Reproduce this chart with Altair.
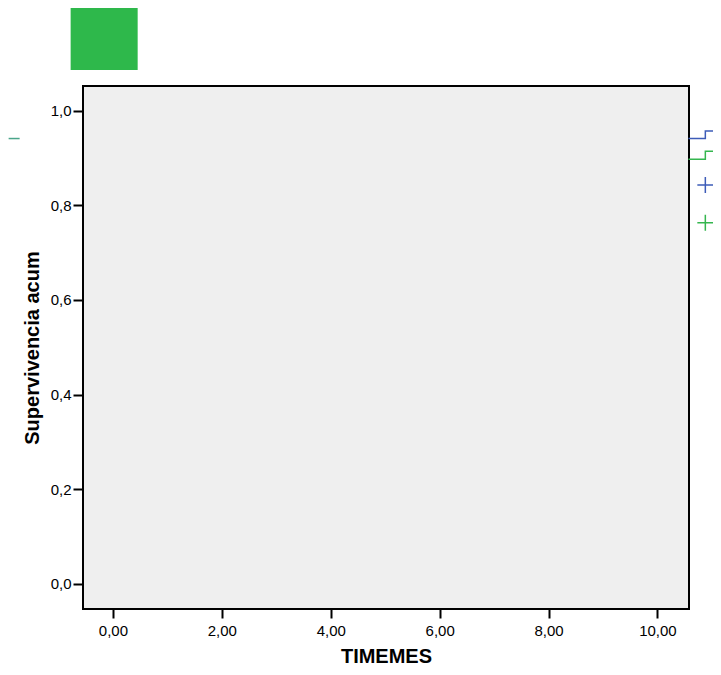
import altair as alt
import pandas as pd

# ---- data ----
x_ticks = [0, 2, 4, 6, 8, 10]
y_ticks = [0.0, 0.2, 0.4, 0.6, 0.8, 1.0]

series_names = ["Grupo 1", "Grupo 2"]
series_colors = ["#3d5cb8", "#35b64f"]

step_x = [10.57, 10.88, 10.88, 11.40]
blue_y = [0.941, 0.941, 0.957, 0.957]
green_y = [0.897, 0.897, 0.914, 0.914]

cross_x = [10.88, 10.88]
cross_y = [0.843, 0.763]

stub_x = [-1.916, -1.714]
stub_y = [0.941, 0.941]

box_x = [-0.777]
box_x2 = [0.454]
box_y = [1.086]
box_y2 = [1.221]

# ---- tables ----
lines_df = pd.DataFrame({
    "x": step_x + step_x,
    "y": blue_y + green_y,
    "s": [series_names[0]] * 4 + [series_names[1]] * 4,
    "o": list(range(4)) + list(range(4)),
})
cross_df = pd.DataFrame({"x": cross_x, "y": cross_y, "s": series_names})
stub_df = pd.DataFrame({"x": stub_x, "y": stub_y, "o": [0, 1]})
box_df = pd.DataFrame({"x": box_x, "x2": box_x2, "y": box_y, "y2": box_y2})

FONT = "Liberation Sans"

x_axis = alt.Axis(
    values=x_ticks, grid=False, domain=False, ticks=True, tickSize=9,
    tickWidth=2, tickColor="black",
    labelExpr="replace(format(datum.value, '.2f'), '.', ',')",
    labelFont=FONT, labelFontSize=15, labelColor="black", labelPadding=5,
    title="TIMEMES", titleFont=FONT, titleFontSize=20, titleFontWeight="bold",
    titleColor="black", titlePadding=8,
)
y_axis = alt.Axis(
    values=y_ticks, grid=False, domain=False, ticks=True, tickSize=10,
    tickWidth=2, tickColor="black",
    labelExpr="replace(format(datum.value, '.1f'), '.', ',')",
    labelFont=FONT, labelFontSize=15, labelColor="black", labelPadding=2,
    title="Supervivencia acum", titleFont=FONT, titleFontSize=20,
    titleFontWeight="bold", titleColor="black", titlePadding=8,
)
x_scale = alt.Scale(domain=[-0.55, 10.58], nice=False, zero=False)
y_scale = alt.Scale(domain=[-0.053, 1.052], nice=False, zero=False)

X = alt.X("x:Q", scale=x_scale, axis=x_axis)
Y = alt.Y("y:Q", scale=y_scale, axis=y_axis)
color = alt.Color("s:N", scale=alt.Scale(domain=series_names, range=series_colors), legend=None)

lines = alt.Chart(lines_df).mark_line(strokeWidth=1.5, clip=False, interpolate="linear").encode(
    x=X, y=Y, color=color, order="o:Q"
)
crosses = alt.Chart(cross_df).mark_point(
    shape="M-1,0L1,0M0,-1L0,1", filled=False, size=256, strokeWidth=1.5, opacity=1, clip=False
).encode(x=X, y=Y, color=color)
stub = alt.Chart(stub_df).mark_line(strokeWidth=1.5, color="#4aa58a", clip=False).encode(
    x=X, y=Y, order="o:Q"
)
box = alt.Chart(box_df).mark_rect(color="#2eb84b", clip=False).encode(
    x=X, x2="x2:Q", y=Y, y2="y2:Q"
)

chart = alt.layer(box, stub, lines, crosses).properties(
    width=606, height=523,
    autosize=alt.AutoSizeParams(type="none"),
    padding={"left": 75, "top": 78, "right": 24, "bottom": 60},
).configure_view(
    fill="#efefef", stroke="black", strokeWidth=2
)

chart.save("out.html", embed_options={"renderer": "svg", "actions": False})
